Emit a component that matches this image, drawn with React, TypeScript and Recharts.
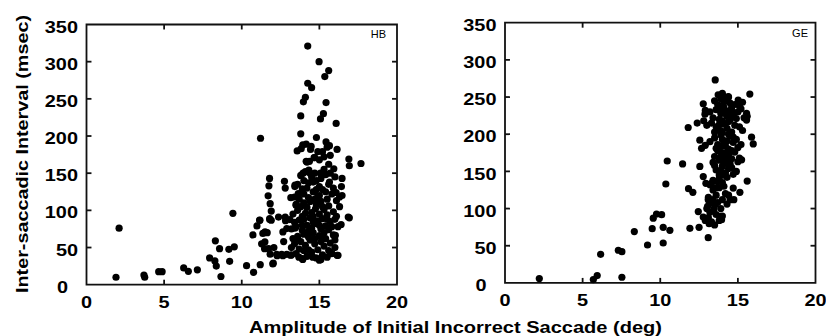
import { ScatterChart, Scatter, XAxis, YAxis, ReferenceArea, ReferenceLine } from 'recharts';

// amplitude (deg), inter-saccadic interval (msec)
const xTicks = [0, 5, 10, 15, 20];
const yTicks = [0, 50, 100, 150, 200, 250, 300, 350];
const innerXTicks = [5, 10, 15];
const innerYTicks = [50, 100, 150, 200, 250, 300];

const hbSparse: [number, number][] = [
  [1.9, 10], [2.1, 76], [3.7, 13], [3.75, 10], [4.65, 17.5], [4.87, 17.5], [6.26, 22.5], [6.56, 18],
  [7.14, 20], [7.93, 36], [8.3, 59], [8.27, 32], [8.36, 25], [8.57, 48.5], [8.66, 11], [9.17, 47.6],
  [9.22, 31.5], [9.43, 96], [9.52, 51], [10.31, 25.6], [10.72, 67], [10.76, 16.6], [10.98, 79],
  [11.15, 87], [11.21, 197], [11.19, 27], [11.36, 69], [11.47, 48.5], [11.49, 57.5], [11.64, 70],
  [11.7, 119.5], [11.75, 133], [11.79, 143], [11.83, 109], [11.9, 99], [11.8, 87.6], [11.9, 86.7],
  [11.73, 48.5], [11.83, 41], [12.0, 28], [12.07, 50], [12.28, 39], [12.37, 91], [12.65, 39],
  [12.75, 139], [12.8, 130], [12.8, 91], [12.82, 86], [12.9, 75.5], [12.65, 71], [13.14, 39.6],
  [13.16, 117], [13.1, 87.6], [13.2, 50], [13.42, 132], [13.42, 76], [13.5, 107], [13.57, 180],
  [13.6, 62], [13.68, 37], [11.28, 55], [11.5, 71], [12.03, 29], [12.25, 40.8], [12.57, 40.8],
  [12.9, 40.8], [11.17, 86.6], [11.8, 89], [13.43, 134], [13.64, 122.6],
];

const hbUpper: [number, number][] = [
  [13.8, 227], [13.8, 203], [13.83, 183], [13.9, 129], [13.95, 150], [13.93, 188], [13.93, 34],
  [13.97, 246], [14.1, 252], [14.25, 321], [14.25, 271], [14.5, 265], [14.15, 189], [14.47, 186],
  [14.15, 166], [14.36, 166], [14.43, 182], [14.32, 154], [14.66, 171], [14.81, 198], [14.98, 300],
  [15.07, 223], [15.26, 230], [15.35, 280], [15.6, 288], [15.43, 245], [15.2, 179], [15.43, 192],
  [15.65, 187], [16.08, 217], [16.14, 182], [15.7, 174], [16.46, 143], [16.42, 132], [16.9, 169],
  [16.93, 160], [17.68, 163], [16.93, 90], [16.14, 39.5], [16.4, 81], [16.03, 66.5], [16.08, 124],
  [16.3, 118], [16.46, 120], [15.93, 156], [15.65, 138], [15.07, 150], [14.7, 150], [15.0, 120],
  [14.75, 102], [15.1, 34], [14.58, 37], [16.2, 39.5], [15.79, 41.7], [16.86, 91],
];

const hbCluster: [number, number][] = [
  [13.2, 40], [13.5, 42], [13.9, 35], [14.2, 38], [14.5, 44], [14.8, 36], [15.0, 33], [15.2, 40],
  [15.5, 37], [15.8, 42], [14.0, 46], [15.6, 46], [13.7, 48], [14.9, 47], [15.3, 52], [16.0, 50],
  [13.4, 55], [13.8, 58], [14.1, 53], [14.4, 60], [14.7, 55], [15.1, 58], [15.4, 62], [15.7, 56],
  [16.0, 60], [13.6, 65], [14.0, 68], [14.3, 64], [14.6, 70], [15.0, 66], [15.3, 70], [15.9, 67],
  [13.3, 62], [12.7, 58], [13.2, 75], [13.5, 78], [13.9, 73], [14.2, 80], [14.5, 76], [14.8, 82],
  [15.1, 75], [15.4, 79], [15.7, 85], [16.2, 78], [13.7, 87], [14.0, 88], [14.4, 90], [14.9, 86],
  [15.2, 89], [15.6, 74], [16.0, 88], [13.4, 84], [14.6, 84], [15.8, 78], [13.3, 95], [13.6, 100],
  [13.9, 92], [14.2, 104], [14.5, 97], [14.8, 108], [15.0, 95], [15.3, 101], [15.6, 106], [15.9, 98],
  [16.1, 92], [14.0, 110], [14.4, 112], [15.1, 112], [15.5, 94], [13.5, 108], [16.3, 105],
  [13.4, 118], [13.7, 115], [14.0, 122], [14.3, 117], [14.6, 125], [14.9, 119], [15.2, 128],
  [15.5, 115], [15.8, 122], [16.1, 113], [14.2, 130], [14.8, 128], [15.4, 125], [13.9, 126],
  [13.6, 135], [14.0, 140], [14.3, 137], [14.5, 145], [14.8, 140], [15.1, 143], [15.4, 148],
  [15.6, 135], [14.1, 152], [14.4, 150], [15.3, 155], [15.7, 150], [16.0, 145], [13.8, 147],
  [14.2, 165], [14.7, 171], [15.0, 168], [15.3, 172], [15.6, 162], [14.9, 179], [15.5, 185],
  [14.3, 47], [14.7, 62], [15.2, 65], [13.9, 80], [14.3, 72], [15.0, 80], [15.5, 88], [14.6, 92],
  [14.1, 96], [15.2, 105], [14.7, 115], [15.0, 132], [14.6, 138], [15.9, 130], [13.8, 105],
];

const geSparse: [number, number][] = [
  [2.21, 5.8], [5.69, 4.5], [5.94, 9.8], [6.16, 38.5], [7.3, 43.9], [7.53, 42], [7.53, 7.6],
  [8.33, 69], [9.18, 51], [9.48, 73], [9.55, 87], [9.76, 92.7], [10.09, 91.8], [10.19, 74.8],
  [10.19, 53.7], [10.62, 70.7], [10.36, 133], [10.45, 164], [11.44, 160], [11.8, 209], [11.82, 126.7],
  [12.1, 121.8], [11.91, 73.4], [12.45, 96], [12.5, 74.8], [12.77, 88.6], [12.38, 215], [12.77, 241],
  [12.88, 227], [13.09, 60.9], [13.15, 79.7], [13.54, 273], [15.77, 254], [15.99, 187], [15.88, 196],
  [15.6, 137], [15.13, 121.8], [14.74, 112], [14.7, 127.6], [15.24, 165.6], [15.56, 228],
  [15.56, 219], [15.02, 246], [14.06, 250.7], [14.38, 250.7], [13.73, 253], [12.55, 192],
  [12.66, 181], [12.55, 156.7], [12.77, 143], [12.94, 134], [13.3, 134], [13.84, 89.5], [13.95, 85],
  [13.45, 98.5], [13.05, 103], [13.09, 112],
];

const geCluster: [number, number][] = [
  [13.9, 248], [14.2, 246], [14.5, 242], [14.8, 240], [15.1, 238], [15.3, 243], [13.5, 245],
  [14.0, 255], [14.4, 250], [13.2, 230], [13.6, 233], [13.9, 228], [14.1, 236], [14.4, 231],
  [14.7, 226], [15.0, 230], [15.2, 234], [13.4, 222], [13.8, 220], [14.3, 224], [14.6, 236],
  [15.4, 222], [15.6, 224], [12.9, 232], [13.0, 212], [13.3, 215], [13.6, 210], [13.9, 205],
  [14.1, 214], [14.3, 208], [14.6, 203], [14.8, 212], [15.1, 210], [13.5, 203], [14.0, 218],
  [14.4, 217], [13.8, 213], [15.3, 205], [12.8, 218], [13.2, 190], [13.5, 195], [13.7, 186],
  [14.0, 193], [14.2, 184], [14.5, 198], [14.7, 189], [14.9, 193], [15.0, 182], [13.9, 199],
  [14.3, 191], [13.6, 181], [12.9, 185], [15.2, 186], [13.5, 170], [13.8, 165], [14.0, 175],
  [14.2, 162], [14.4, 172], [14.6, 167], [14.8, 176], [15.0, 163], [13.7, 178], [14.1, 168],
  [14.5, 160], [13.4, 162], [15.1, 168], [13.6, 152], [13.8, 145], [14.0, 157], [14.2, 148],
  [14.4, 154], [14.7, 146], [13.9, 150], [14.3, 142], [13.5, 158], [14.9, 150], [13.2, 132],
  [13.4, 125], [13.6, 118], [13.8, 128], [14.0, 112], [14.2, 120], [13.1, 115], [13.3, 108],
  [13.5, 104], [13.9, 100], [14.3, 106], [14.5, 112], [13.7, 136], [13.0, 100], [14.1, 130],
  [13.4, 138], [13.2, 95], [13.6, 92], [14.4, 118], [13.1, 88], [13.3, 82], [13.8, 84], [14.0, 90],
  [13.5, 78], [12.9, 84], [13.7, 240], [14.1, 243], [14.6, 232], [13.8, 236], [14.2, 228],
  [14.5, 219], [14.9, 221], [13.7, 207], [14.0, 202], [14.4, 200], [14.7, 196], [14.1, 188],
  [14.4, 180], [14.6, 178], [13.9, 183], [14.2, 175], [13.9, 170], [14.3, 164], [14.6, 155],
  [14.1, 145], [13.8, 140], [13.6, 128], [14.0, 135], [13.7, 108], [13.4, 112],
];

const toRows = (...sets: [number, number][][]) =>
  sets.flat().map(([x, y]) => ({ x, y }));

const hbData = toRows(hbSparse, hbUpper, hbCluster);
const geData = toRows(geSparse, geCluster);

const FONT = '"Liberation Sans", Arial, sans-serif';
const INK = '#111';
const LW = 1.8;
// inward tick length in data units (~5px)
const TX = 0.32;
const TY = 6.7;
const PLOT_H = 260.2;
const PLOT_W = 310.5;

const YTick = (props: any) => {
  const { x, y, payload } = props;
  const dx = payload.value === 0 ? -10 : 0;
  return (
    <text
      transform={`translate(${x + dx},${y + 2}) scale(1.17,1)`}
      textAnchor="end"
      dy="0.36em"
      fontSize={17}
      fontWeight="bold"
      fontFamily={FONT}
      fill="#000"
    >
      {payload.value}
    </text>
  );
};

const XTick = (props: any) => {
  const { x, y, payload } = props;
  return (
    <text
      transform={`translate(${x},${y}) scale(1.17,1)`}
      textAnchor="middle"
      dy="0.36em"
      fontSize={17}
      fontWeight="bold"
      fontFamily={FONT}
      fill="#000"
    >
      {payload.value}
    </text>
  );
};

const Dot = (p: any) => <circle cx={p.cx} cy={p.cy} r={3.6} fill="#000" />;

interface PanelProps {
  data: { x: number; y: number }[];
  left: number;
  axisWidth: number;
  top: number;
  right: number;
}

function Panel({ data, left, axisWidth, top, right }: PanelProps) {
  const width = axisWidth + PLOT_W + right;
  return (
    <div style={{ position: 'absolute', left, top: 0 }}>
      <ScatterChart width={width} height={336} margin={{ top, right, left: 0, bottom: 336 - 30 - top - PLOT_H }}>
        <XAxis
          type="number"
          dataKey="x"
          domain={[0, 20]}
          ticks={xTicks}
          interval={0}
          height={30}
          axisLine={false}
          tickLine={false}
          tickSize={0}
          tickMargin={16.7}
          tick={<XTick />}
        />
        <YAxis
          type="number"
          dataKey="y"
          domain={[0, 350]}
          ticks={yTicks}
          interval={0}
          width={axisWidth}
          axisLine={false}
          tickLine={false}
          tickSize={0}
          tickMargin={8.5}
          tick={<YTick />}
        />
        <ReferenceArea x1={0} x2={20} y1={0} y2={350} fill="none" stroke={INK} strokeWidth={LW} ifOverflow="visible" />
        {innerXTicks.map((t) => (
          <ReferenceLine key={`b${t}`} segment={[{ x: t, y: 0 }, { x: t, y: TY }]} stroke={INK} strokeWidth={LW} />
        ))}
        {innerXTicks.map((t) => (
          <ReferenceLine key={`t${t}`} segment={[{ x: t, y: 350 }, { x: t, y: 350 - TY }]} stroke={INK} strokeWidth={LW} />
        ))}
        {innerYTicks.map((t) => (
          <ReferenceLine key={`l${t}`} segment={[{ x: 0, y: t }, { x: TX, y: t }]} stroke={INK} strokeWidth={LW} />
        ))}
        {innerYTicks.map((t) => (
          <ReferenceLine key={`r${t}`} segment={[{ x: 20, y: t }, { x: 20 - TX, y: t }]} stroke={INK} strokeWidth={LW} />
        ))}
        <Scatter data={data} shape={<Dot />} isAnimationActive={false} />
      </ScatterChart>
    </div>
  );
}

export default function App() {
  return (
    <div style={{ position: 'absolute', left: 0, top: 0, width: 826, height: 336, background: '#fff' }}>
      <Panel data={hbData} left={0} axisWidth={86.5} top={24.5} right={13} />
      <Panel data={geData} left={418} axisWidth={87} top={22.7} right={10.5} />
      <svg style={{ position: 'absolute', left: 0, top: 0 }} width={826} height={336}>
        <text x={386} y={38} textAnchor="end" fontSize={11} fontFamily={FONT} fill="#000">HB</text>
        <text x={808} y={37} textAnchor="end" fontSize={11} fontFamily={FONT} fill="#000">GE</text>
        <text
          transform="translate(28,154) rotate(-90)"
          textAnchor="middle"
          fontSize={17}
          fontWeight="bold"
          fontFamily={FONT}
          textLength={278}
          lengthAdjust="spacingAndGlyphs"
          fill="#000"
        >
          Inter-saccadic Interval (msec)
        </text>
        <text
          x={455.5}
          y={333}
          textAnchor="middle"
          fontSize={17}
          fontWeight="bold"
          fontFamily={FONT}
          textLength={413}
          lengthAdjust="spacingAndGlyphs"
          fill="#000"
        >
          Amplitude of Initial Incorrect Saccade (deg)
        </text>
      </svg>
    </div>
  );
}
